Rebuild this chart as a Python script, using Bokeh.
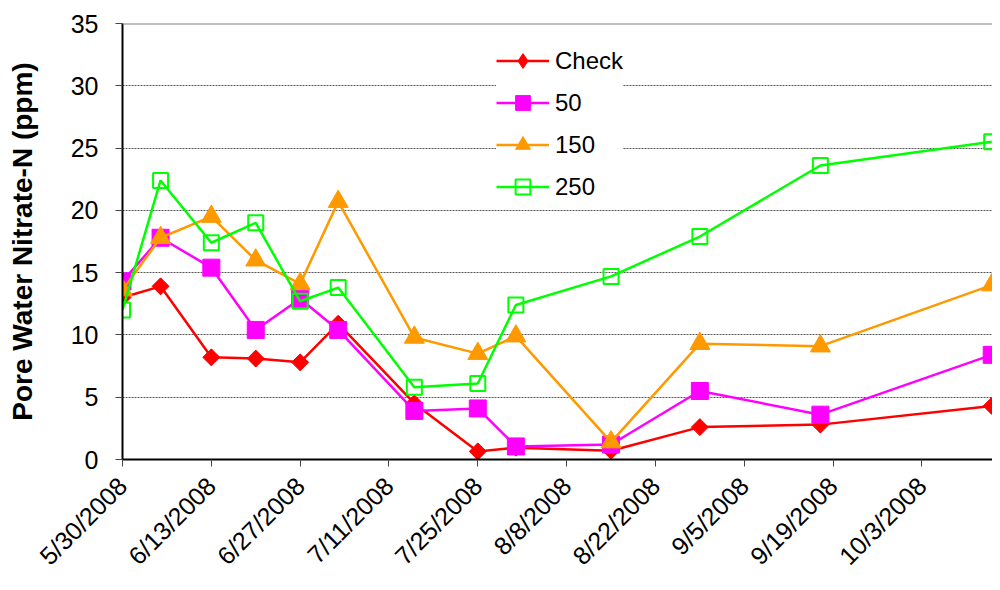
import math
import pandas as pd
from bokeh.plotting import figure
from bokeh.models import (FixedTicker, CustomJSTickFormatter, Range1d, Span, Legend)
from bokeh.embed import file_html
from bokeh.resources import INLINE

# ---- data ----
dates = ["5/30/2008", "6/5/2008", "6/13/2008", "6/20/2008", "6/27/2008", "7/3/2008",
         "7/15/2008", "7/25/2008", "7/31/2008", "8/15/2008", "8/29/2008", "9/17/2008",
         "10/14/2008"]
check = [13.0, 13.9, 8.2, 8.1, 7.8, 10.9, 4.5, 0.65, 0.95, 0.7, 2.6, 2.8, 4.3]
n50 = [14.3, 17.8, 15.4, 10.4, 12.9, 10.4, 3.9, 4.1, 1.05, 1.2, 5.5, 3.6, 8.4]
n150 = [13.6, 17.8, 19.5, 16.0, 14.1, 20.7, 9.8, 8.5, 9.9, 1.4, 9.3, 9.1, 14.0]
n250 = [12.0, 22.4, 17.4, 19.0, 12.7, 13.8, 5.8, 6.1, 12.4, 14.7, 17.9, 23.6, 25.5]
tick_dates = ["5/30/2008", "6/13/2008", "6/27/2008", "7/11/2008", "7/25/2008", "8/8/2008",
              "8/22/2008", "9/5/2008", "9/19/2008", "10/3/2008"]
y_ticks = [0, 5, 10, 15, 20, 25, 30, 35]
y_title = "Pore Water Nitrate-N (ppm)"
x_start = "5/30/2008 00:00"
x_end = "10/14/2008 03:00"

FONT = "Liberation Sans"

x = pd.to_datetime(dates, format="%m/%d/%Y")
xt = pd.to_datetime(tick_dates, format="%m/%d/%Y")
xs = pd.to_datetime(x_start, format="%m/%d/%Y %H:%M")
xe = pd.to_datetime(x_end, format="%m/%d/%Y %H:%M")

p = figure(width=992, height=582, x_axis_type="datetime",
           output_backend="svg", toolbar_location=None,
           x_range=Range1d(xs, xe), y_range=Range1d(0, 35),
           min_border_left=122, min_border_right=0, min_border_top=23,
           min_border_bottom=120)
p.outline_line_color = None
p.background_fill_color = "white"
p.border_fill_color = "white"

# axes
xa = p.xaxis[0]
xa.ticker = FixedTicker(ticks=[t.value / 1e6 for t in xt])
xa.formatter = CustomJSTickFormatter(code="""
const d = new Date(tick);
return (d.getUTCMonth()+1) + '/' + d.getUTCDate() + '/' + d.getUTCFullYear();
""")
xa.major_label_orientation = math.pi / 4
xa.major_label_text_font = FONT
xa.major_label_text_font_size = "25px"
xa.major_label_text_color = "black"
xa.major_label_standoff = 15
xa.axis_line_color = "black"
xa.axis_line_width = 2
xa.major_tick_line_color = "#444444"
xa.major_tick_out = 7
xa.major_tick_in = 0
xa.minor_tick_line_color = None

ya = p.yaxis[0]
ya.ticker = FixedTicker(ticks=y_ticks)
ya.major_label_text_font = FONT
ya.major_label_text_font_size = "25px"
ya.major_label_text_color = "black"
ya.major_label_standoff = 17
ya.axis_line_color = "black"
ya.axis_line_width = 2
ya.major_tick_line_color = "#444444"
ya.major_tick_out = 7
ya.major_tick_in = 0
ya.minor_tick_line_color = None
ya.axis_label = y_title
ya.axis_label_text_font = FONT
ya.axis_label_text_font_size = "28px"
ya.axis_label_text_font_style = "bold"
ya.axis_label_text_color = "black"
ya.axis_label_standoff = 30

p.xgrid.grid_line_color = None
p.ygrid.ticker = FixedTicker(ticks=y_ticks[1:-1])
p.ygrid.grid_line_color = "#555555"
p.ygrid.grid_line_width = 1
p.ygrid.grid_line_dash = "2 1"

p.add_layout(Span(location=y_ticks[-1], dimension="width", line_color="#808080", line_width=2))

series = [
    ("Check", check, "#FF0000", dict(marker="square", angle=math.pi / 4, size=12,
                                      fill_color="#FF0000", line_color="#FF0000"),
     dict(marker="diamond", size=16, fill_color="#FF0000", line_color="#FF0000")),
    ("50", n50, "#FF00FF", dict(marker="square", size=17,
                                 fill_color="#FF00FF", line_color="#FF00FF"), None),
    ("150", n150, "#FF9900", dict(marker="triangle", size=20,
                                   fill_color="#FF9900", line_color="#FF9900"), None),
    ("250", n250, "#00FF00", dict(marker="square", size=15, fill_color=None,
                                   line_color="#00FF00", line_width=2), None),
]

items = []
for name, vals, col, mk, legend_mk in series:
    r1 = p.line(x, vals, line_color=col, line_width=2.5)
    if legend_mk is not None:
        # diamond drawn beneath the rotated squares; it provides the legend glyph
        r3 = p.scatter(x, vals, **legend_mk)
        p.scatter(x, vals, **mk)
        items.append((name, [r1, r3]))
    else:
        r2 = p.scatter(x, vals, **mk)
        items.append((name, [r1, r2]))

legend = Legend(items=items, location=(374, 254))
legend.label_text_font = FONT
legend.label_text_font_size = "24px"
legend.label_text_color = "black"
legend.glyph_width = 53
legend.glyph_height = 37
legend.label_height = 37
legend.spacing = 5
legend.padding = 4
legend.margin = 0
legend.label_standoff = 6
legend.border_line_color = None
legend.background_fill_color = "white"
legend.background_fill_alpha = 1.0
p.add_layout(legend, "center")

open("out.html", "w").write(file_html(p, INLINE))
